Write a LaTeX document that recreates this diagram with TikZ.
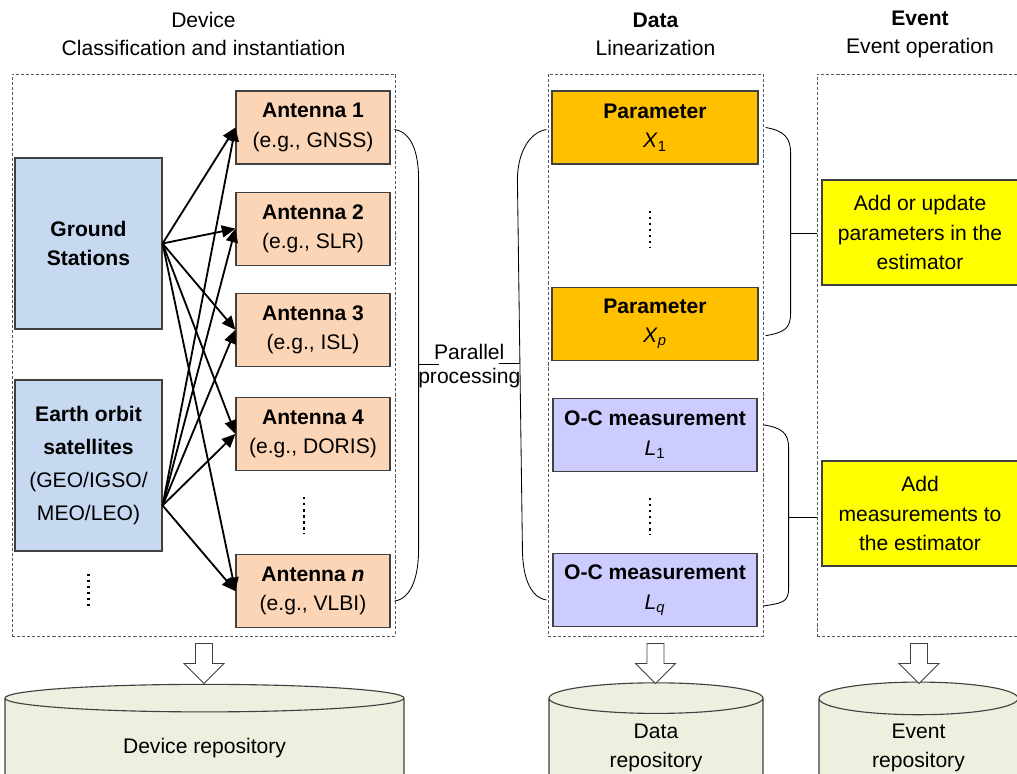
\documentclass[tikz,border=0pt]{standalone}
\usepackage{fontspec}
\setmainfont{Liberation Sans}
\usepackage{xcolor}
\definecolor{deviceBlue}{HTML}{C6D9F1}
\definecolor{antennaPeach}{HTML}{FBD5B5}
\definecolor{paramOrange}{HTML}{FFC000}
\definecolor{measLilac}{HTML}{CCCCFF}
\definecolor{eventYellow}{HTML}{FFFF00}
\definecolor{repoGreen}{HTML}{EBF1DE}
\definecolor{edgeGray}{HTML}{404040}
\definecolor{frameGray}{HTML}{595959}
\usepackage{tikz}
\usetikzlibrary{
    shapes.geometric,
    arrows.meta,
    positioning,
    calc
}
\tikzset{
    % Base style for all filled boxes
    flat base/.style={
        rectangle,
        draw=edgeGray,
        line width=0.8pt,
        align=center,
        inner sep=2pt,
    },
    % Ground stations / satellites
    source/.style={
        flat base,
        fill=deviceBlue,
        minimum width=3.675cm,
        minimum height=4.275cm,
    },
    % Antenna boxes
    antenna/.style={
        flat base,
        fill=antennaPeach,
        minimum width=3.85cm,
        minimum height=1.825cm,
    },
    % Parameter boxes
    param/.style={
        flat base,
        fill=paramOrange,
        minimum width=5.15cm,
        minimum height=1.825cm,
    },
    % O-C measurement boxes
    meas/.style={
        flat base,
        fill=measLilac,
        minimum width=5.1cm,
        minimum height=1.825cm,
    },
    % Event operation boxes
    evbox/.style={
        flat base,
        fill=eventYellow,
        minimum width=4.9cm,
        minimum height=2.625cm,
    },
    % Dashed frame round one column
    column/.style={
        rectangle,
        draw=frameGray,
        line width=0.6pt,
        dash pattern=on 2.2pt off 1.4pt,
        minimum height=14.05cm,
    },
    % Repository drums
    repo/.style={
        cylinder,
        shape border rotate=90,
        draw=edgeGray,
        line width=0.8pt,
        fill=repoGreen,
        align=center,
        minimum height=2.75cm,
    },
    % Device to antenna arrows
    feed/.style={
        -{Triangle[length=3.4mm, width=3mm]},
        line width=1.3pt,
    },
    % Thin brackets
    brace/.style={
        line width=0.6pt,
    },
    % Vertical dots
    vdots/.style={
        line width=1.7pt,
        dash pattern=on 1.7pt off 2.6pt,
    },
    % Column headings
    head/.style={
        align=center,
        font=\fontsize{15pt}{20pt}\selectfont,
    },
    % Hollow arrow down to a repository
    sink arrow/.pic={
        \draw[fill=white, draw=edgeGray, line width=0.6pt]
            (-8.5,0) -- (8.5,0) -- (8.5,20) -- (20,20) -- (0,40)
            -- (-20,20) -- (-8.5,20) -- cycle;
    },
}

\begin{document}
\begin{tikzpicture}[x=0.025cm, y=-0.025cm, font=\fontsize{15pt}{21pt}\selectfont]
    \useasboundingbox (0,0) rectangle (1017,774);
    \clip (0,0) rectangle (1017,774);

    % columns
    \node (devframe) [column, minimum width=9.575cm] at (203.5,355) {};
    \node (dataframe) [column, minimum width=5.375cm] at (655.5,355) {};
    \node (evframe) [column, minimum width=5.15cm] at (920,355) {};

    \coordinate (headrow) at (0,34);
    \node (devhead) [head] at (devframe.north |- headrow) {Device\\Classification and instantiation};
    \node (datahead) [head] at (dataframe.north |- headrow) {\textbf{Data}\\Linearization};
    \node (evhead) [head] at (evframe.north |- headrow) {\textbf{Event}\\Event operation};

    % devices
    \node (gs) [source] at (88.5,243.5) {\textbf{Ground}\\\textbf{Stations}};
    \node (sat) [source, font=\fontsize{15pt}{23.5pt}\selectfont] at (88.5,465.5)
        {\textbf{Earth orbit}\\\textbf{satellites}\\(GEO/IGSO/\\MEO/LEO)};
    \draw [vdots] ($(sat.south)+(0,22)$) -- ++(0,35);

    \node (a1) [antenna] at (313,127.5) {\textbf{Antenna 1}\\(e.g., GNSS)};
    \node (a2) [antenna, below=0.675cm of a1] {\textbf{Antenna 2}\\(e.g., SLR)};
    \node (a3) [antenna, below=0.675cm of a2] {\textbf{Antenna 3}\\(e.g., ISL)};
    \node (a4) [antenna, below=0.75cm of a3] {\textbf{Antenna 4}\\(e.g., DORIS)};
    \node (an) [antenna, below=2.075cm of a4] {\textbf{Antenna \textit{n}}\\(e.g., VLBI)};
    \draw [vdots] ($(a4.south)+(-9,26)$) -- ++(0,37);

    \coordinate (satout) at ($(sat.east)+(0,40)$);
    \foreach \ant in {a1,a2,a3,a4,an} {
        \draw [feed] (gs.east) -- (\ant.west);
        \draw [feed] (satout) -- (\ant.west);
    }

    % data
    \node (p1) [param] at (655,127.5) {\textbf{Parameter}\\\textit{X}\textsubscript{1}};
    \node (pp) [param, below=3.05cm of p1] {\textbf{Parameter}\\\textit{X}\textsubscript{\textit{p}}};
    \node (l1) [meas, below=0.925cm of pp] {\textbf{O-C measurement}\\\textit{L}\textsubscript{1}};
    \node (lq) [meas, below=2.025cm of l1] {\textbf{O-C measurement}\\\textit{L}\textsubscript{\textit{q}}};
    \draw [vdots] ($(p1.south)+(-5,46)$) -- ++(0,37);
    \draw [vdots] ($(l1.south)+(-5,26)$) -- ++(0,37);

    % parallel processing brackets
    \draw [brace] ($(a1.east)+(4,2)$) .. controls +(18,3) and +(0,-25) .. ++(24,50) coordinate (lbtop)
        -- ($(an.east)+(28,-42)$) coordinate (lbbot)
        .. controls +(0,25) and +(18,-3) .. ($(an.east)+(4,10)$);
    \draw [brace] ($(p1.west)+(-5,2)$) .. controls +(-18,3) and +(0,-25) .. ++(-29,50) coordinate (rbtop)
        -- ($(lq.west)+(-30,-42)$) coordinate (rbbot)
        .. controls +(0,25) and +(-18,-3) .. ($(lq.west)+(-6,10)$);
    \coordinate (lb) at ($(lbtop)!0.5!(lbbot)$);
    \coordinate (rb) at ($(rbtop)!0.5!(rbbot)$);
    \node (par) [anchor=south, inner xsep=-1.4mm, inner ysep=0pt] at ($(lb)!0.5!(rb)+(0,-4)$) {Parallel};
    \node (proc) [anchor=north, inner sep=0pt] at ($(lb)!0.5!(rb)+(0,4)$) {processing};
    \draw [brace] (lb) -- (lb -| par.west);
    \draw [brace] (rb) -- (rb -| par.east);

    % events
    \node (ev1) [evbox] at (920,232.5) {Add or update\\parameters in the\\estimator};
    \node (ev2) [evbox] at (920,513.5) {Add\\measurements to\\the estimator};

    \draw [brace] ($(p1.east)+(7,0)$) .. controls +(18,3) and +(0,-15) .. ++(25,25) coordinate (pbtop)
        -- ($(pp.east)+(32,-10)$) coordinate (pbbot)
        .. controls +(0,15) and +(18,-3) .. ($(pp.east)+(7,12)$);
    \draw [brace] ($(l1.east)+(6,-10)$) .. controls +(18,3) and +(0,-15) .. ++(25,23) coordinate (mbtop)
        -- ($(lq.east)+(31,-2)$) coordinate (mbbot)
        .. controls +(0,15) and +(18,-3) .. ($(lq.east)+(6,16)$);
    \coordinate (pb) at ($(pbtop)!0.5!(pbbot)$);
    \coordinate (mb) at ($(mbtop)!0.5!(mbbot)$);
    \draw [brace] (pb) -- (pb -| evframe.west);
    \draw [brace] (mb) -- (mb -| evframe.west);

    % repositories
    \node (devrepo) [repo, minimum width=9.975cm, aspect=0.16] at (204.5,748) {Device repository};
    \node (datarepo) [repo, minimum width=5.35cm, aspect=0.3] at (656,748) {Data\\repository};
    \node (evrepo) [repo, minimum width=4.975cm, aspect=0.32] at (918.5,748) {Event\\repository};

    \pic at ($(devframe.south)+(0.5,7)$) {sink arrow};
    \pic at ($(dataframe.south)+(0,7)$) {sink arrow};
    \pic at ($(evframe.south)+(-1,7)$) {sink arrow};
\end{tikzpicture}
\end{document}
